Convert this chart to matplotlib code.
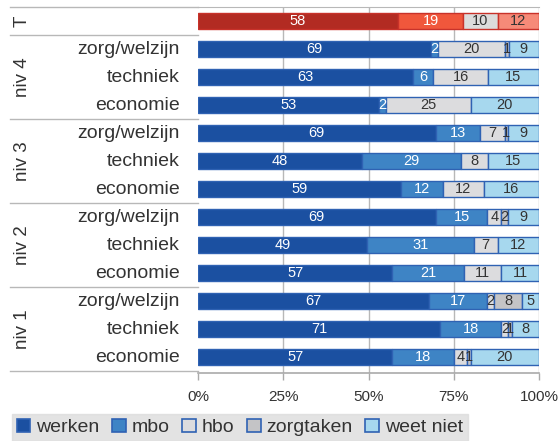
import numpy as np
import matplotlib
matplotlib.use("Agg")
import matplotlib.pyplot as plt
from matplotlib.patches import Rectangle
from matplotlib.transforms import blended_transform_factory

plt.rcParams['font.family'] = ['Liberation Sans', 'DejaVu Sans']

# data, top row first
groups = ["T", "niv 4", "niv 3", "niv 2", "niv 1"]
group_sizes = [1, 3, 3, 3, 3]
categories = ["", "zorg/welzijn", "techniek", "economie",
              "zorg/welzijn", "techniek", "economie",
              "zorg/welzijn", "techniek", "economie",
              "zorg/welzijn", "techniek", "economie"]
series = ["werken", "mbo", "hbo", "zorgtaken", "weet niet"]
werken    = [58, 69, 63, 53, 69, 48, 59, 69, 49, 57, 67, 71, 57]
mbo       = [19,  2,  6,  2, 13, 29, 12, 15, 31, 21, 17, 18, 18]
hbo       = [10, 20, 16, 25,  7,  8, 12,  4,  7, 11,  2,  2,  4]
zorgtaken = [ 0,  1,  0,  0,  1,  0,  0,  2,  0,  0,  8,  1,  1]
weet_niet = [12,  9, 15, 20,  9, 15, 16,  9, 12, 11,  5,  8, 20]

vals = np.array([werken, mbo, hbo, zorgtaken, weet_niet], dtype=float)
pct = vals / vals.sum(axis=0) * 100

blue_cols = ["#1b50a1", "#3e84c5", "#dcdcde", "#c4c4c6", "#a7d8ee"]
red_cols = ["#b22b22", "#f0573c", "#dcdcdc", "#c4c4c6", "#f68a78"]
txt_cols = ["white", "white", "#333333", "#333333", "#333333"]

fig = plt.figure(figsize=(5.58, 4.41), dpi=100)
ax = fig.add_axes([198/558, 1-373/441, 341/558, 366/441])

n = len(categories)
y = np.arange(n)
left = np.zeros(n)
for s in range(len(series)):
    for i in range(n):
        if vals[s, i] == 0:
            continue
        if i == 0:
            fc, ec = red_cols[s], "#c8322a"
        else:
            fc, ec = blue_cols[s], "#2f62b3"
        ax.barh(y[i], pct[s, i], left=left[i], height=0.58, color=fc,
                edgecolor=ec, linewidth=1.0, zorder=3)
        ax.text(left[i] + pct[s, i]/2, y[i], "%d" % vals[s, i], ha='center', va='center',
                color=txt_cols[s], fontsize=10.5, zorder=4)
    left += pct[s]

ax.set_xlim(0, 100)
ax.set_ylim(12.57, -0.5)
ax.set_xticks([0, 25, 50, 75, 100])
ax.set_xticklabels(["0%", "25%", "50%", "75%", "100%"], fontsize=11, color="#333333")
ax.set_yticks([])
ax.tick_params(axis='x', direction='out', length=5, width=1, color="#aaaaaa", pad=7)
for x in [25, 50, 75, 100]:
    ax.axvline(x, color="#b8b8b8", lw=1, zorder=1)
for side in ["left", "right"]:
    ax.spines[side].set_visible(False)
ax.spines["top"].set_color("#b8b8b8")
ax.spines["bottom"].set_color("#aaaaaa")
ax.spines["bottom"].set_linewidth(1.2)

# left-side labels and separators
tr = blended_transform_factory(ax.transAxes, ax.transData)
for i, c in enumerate(categories):
    ax.text(-0.053, y[i], c, transform=tr, ha='right', va='center', fontsize=14, color="#333333")
pos = -0.5
for g, sz in zip(groups, group_sizes):
    ax.plot([-0.55, 0], [pos, pos], transform=tr, color="#b8b8b8", lw=1, clip_on=False)
    ax.text(-0.515, pos + sz/2, g, transform=tr, rotation=90, ha='center', va='center',
            fontsize=13.5, color="#333333")
    pos += sz
ax.plot([-0.55, 0], [pos, pos], transform=tr, color="#b8b8b8", lw=1, clip_on=False)

# legend
handles = []
for s in range(len(series)):
    handles.append(Rectangle((0, 0), 1, 1, facecolor=blue_cols[s], edgecolor="#2f62b3", lw=1.2))
leg = fig.legend(handles, series, loc='lower left', bbox_to_anchor=(12/558, 0), ncol=5,
                 fontsize=14, frameon=True, fancybox=False, handlelength=0.7, handleheight=0.7,
                 handletextpad=0.3, columnspacing=0.65, borderpad=0.25, borderaxespad=0)
leg.get_frame().set_facecolor("#dcdcdc")
leg.get_frame().set_edgecolor("#dcdcdc")
for t in leg.get_texts():
    t.set_color("#333333")

fig.savefig("out.png", dpi=100)
